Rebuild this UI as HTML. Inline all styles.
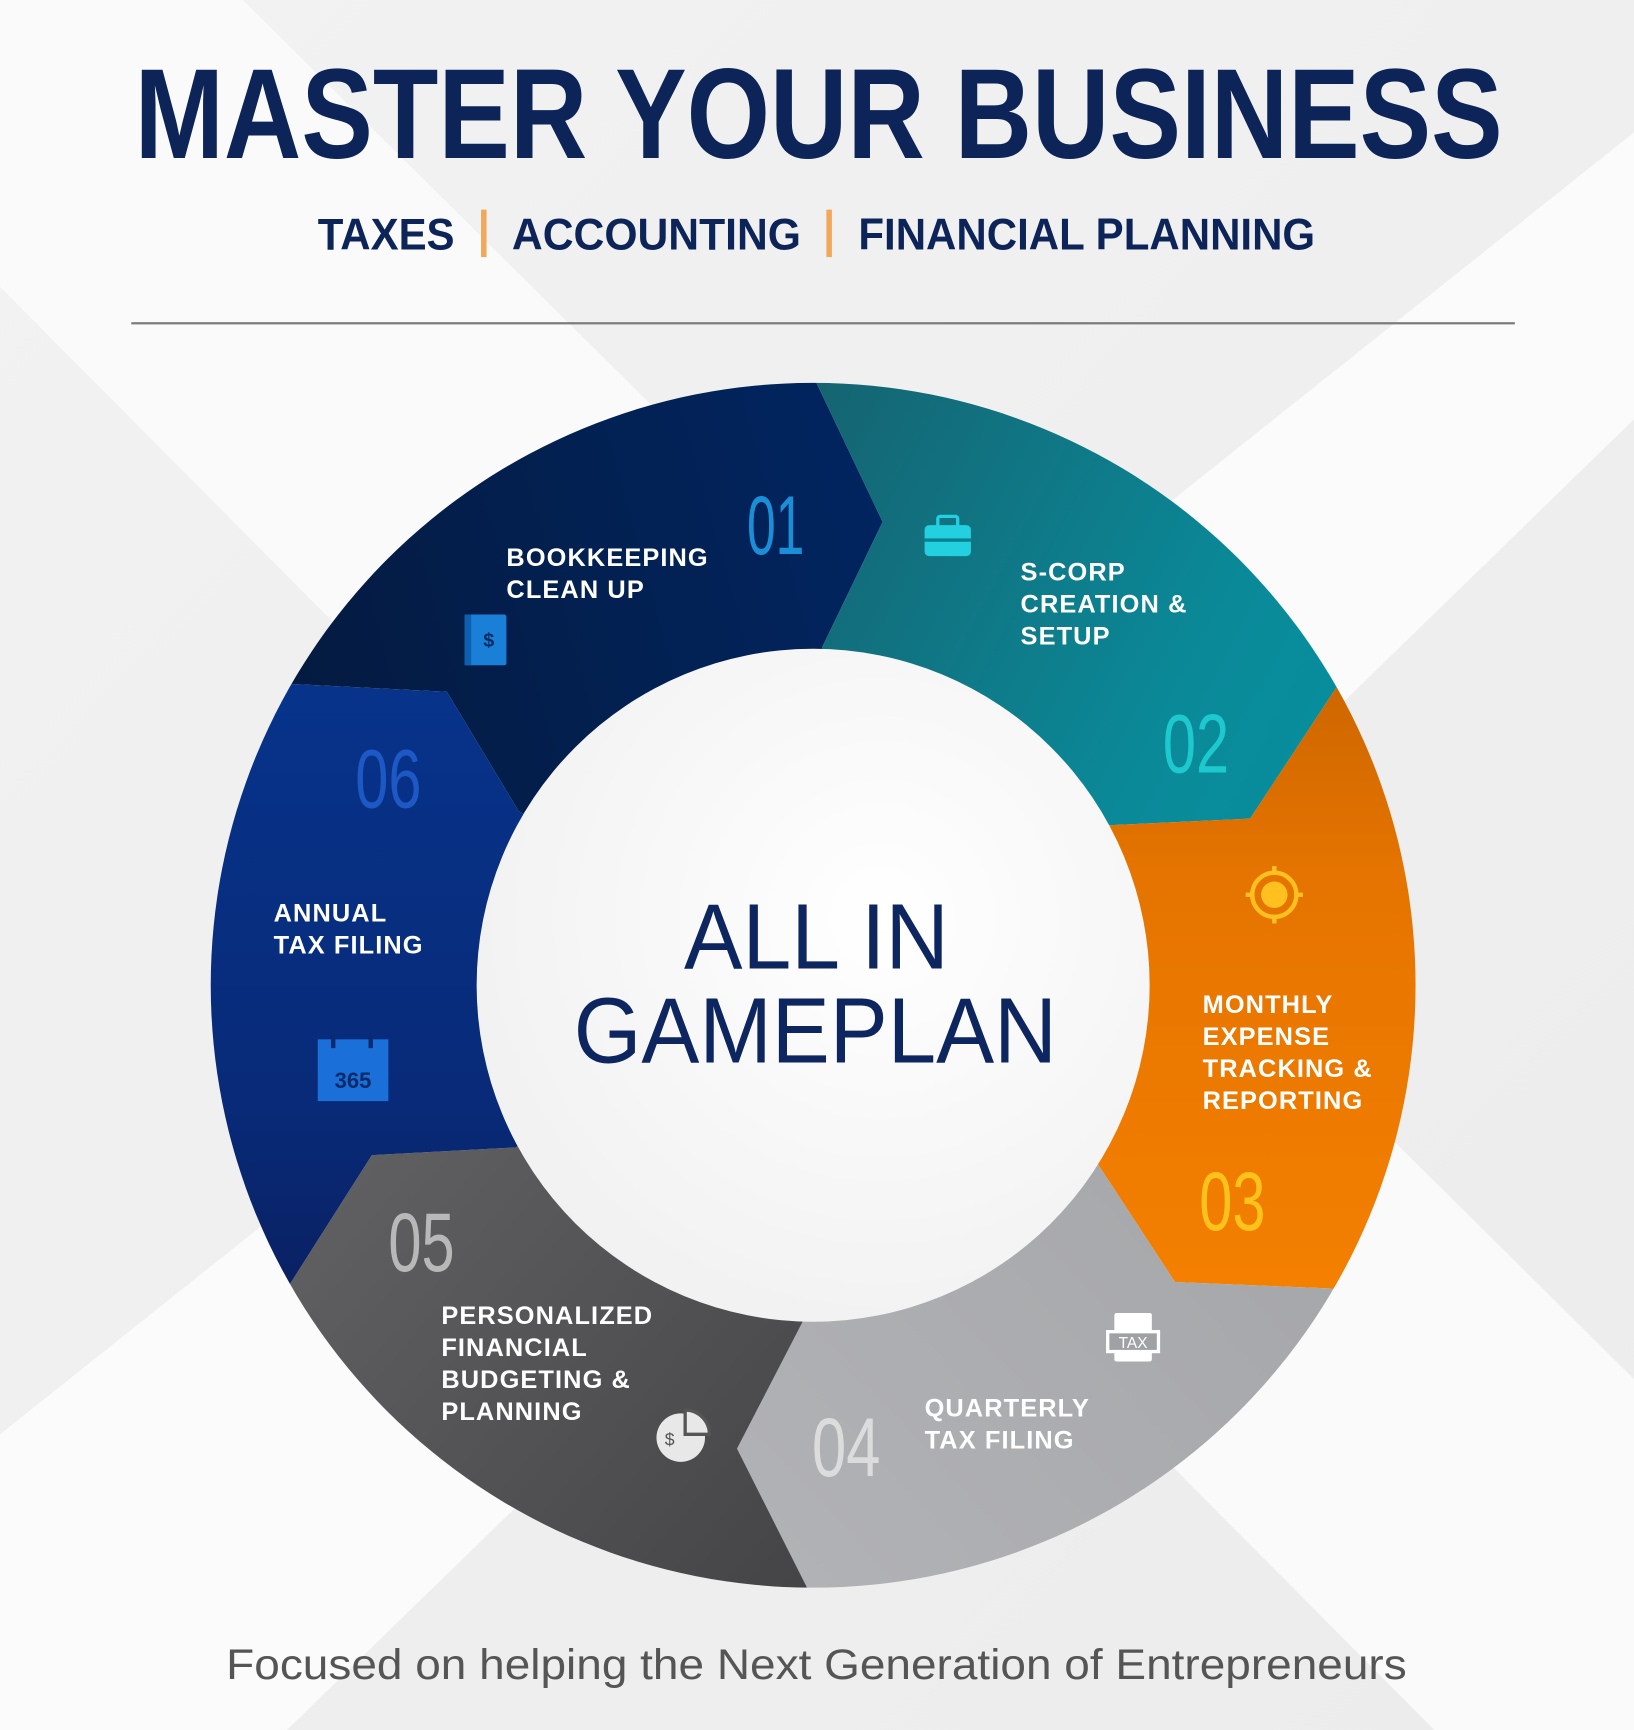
<!DOCTYPE html>
<html><head><meta charset="utf-8"><style>
html,body{margin:0;padding:0;background:#f3f3f3;width:1634px;height:1730px;overflow:hidden}
svg{display:block;vertical-align:top}
</style></head><body>
<svg width="1634" height="1730" viewBox="0 0 1481 1568" xmlns="http://www.w3.org/2000/svg" font-family="Liberation Sans, sans-serif">
<defs>
<linearGradient id="bg" x1="0" y1="0" x2="1" y2="1"><stop offset="0" stop-color="#f2f2f2"/><stop offset="1" stop-color="#ececec"/></linearGradient>
<linearGradient id="g1" x1="0" y1="0.3" x2="1" y2="0"><stop offset="0" stop-color="#06152e"/><stop offset="1" stop-color="#00286a"/></linearGradient>
<linearGradient id="g2" x1="0" y1="0" x2="1" y2="0.6"><stop offset="0" stop-color="#1c4d5a"/><stop offset="0.6" stop-color="#0a8a99"/><stop offset="1" stop-color="#0296a8"/></linearGradient>
<linearGradient id="g3" x1="0" y1="0" x2="0" y2="1"><stop offset="0" stop-color="#a85000"/><stop offset="0.4" stop-color="#e57400"/><stop offset="1" stop-color="#ff8800"/></linearGradient>
<linearGradient id="g4" x1="1" y1="0" x2="0" y2="1"><stop offset="0" stop-color="#9c9da0"/><stop offset="1" stop-color="#b9babd"/></linearGradient>
<linearGradient id="g5" x1="0" y1="0" x2="1" y2="1"><stop offset="0" stop-color="#78787b"/><stop offset="1" stop-color="#333335"/></linearGradient>
<linearGradient id="g6" x1="0" y1="0" x2="0" y2="1"><stop offset="0" stop-color="#063a98"/><stop offset="0.6" stop-color="#082a78"/><stop offset="1" stop-color="#0e1240"/></linearGradient>
<radialGradient id="gi" cx="0.6" cy="0.4" r="0.7"><stop offset="0" stop-color="#ffffff"/><stop offset="1" stop-color="#f0f0f0"/></radialGradient>
<clipPath id="ring"><circle cx="737" cy="893" r="546"/></clipPath>
</defs>
<rect width="1481" height="1568" fill="url(#bg)"/>
<polygon points="0,0 220,0 1481,1250 1481,1568 1300,1568 0,260" fill="#fafafa"/>
<polygon points="1481,120 1481,380 260,1568 0,1568 0,1300" fill="#fbfbfb"/>

<text x="742" y="143" text-anchor="middle" font-size="116" font-weight="bold" fill="#0c2458" textLength="1240" lengthAdjust="spacingAndGlyphs">MASTER YOUR BUSINESS</text>
<g font-size="40" font-weight="bold" fill="#0c2458">
<text x="288" y="226" textLength="124" lengthAdjust="spacingAndGlyphs">TAXES</text>
<text x="464" y="226" textLength="262" lengthAdjust="spacingAndGlyphs">ACCOUNTING</text>
<text x="778" y="226" textLength="414" lengthAdjust="spacingAndGlyphs">FINANCIAL PLANNING</text>
</g>
<rect x="436" y="190" width="5" height="43" fill="#f0a85a"/>
<rect x="749" y="190" width="5" height="43" fill="#f0a85a"/>
<rect x="119" y="292" width="1254" height="2" fill="#7a7a7a"/>

<g clip-path="url(#ring)">
<polygon points="737,893 470,735 405,627 265,620 -207,347 743,-199 740,347 800,473 745,587" fill="url(#g1)"/>
<polygon points="737,893 745,587 800,473 740,347 743,-199 1687,351 1212,622 1133,742 1005,748" fill="url(#g2)"/>
<polygon points="737,893 1005,748 1133,742 1212,622 1687,351 1683,1443 1210,1168 1065,1162 995,1055" fill="url(#g3)"/>
<polygon points="737,893 995,1055 1065,1162 1210,1168 1683,1443 727,1987 732,1440 668,1313 728,1197" fill="url(#g4)"/>
<polygon points="737,893 728,1197 668,1313 732,1440 727,1987 -213,1437 262,1165 337,1047 467,1040" fill="url(#g5)"/>
<polygon points="737,893 467,1040 337,1047 262,1165 -213,1437 -207,347 265,620 405,627 470,735" fill="url(#g6)"/>
</g>
<circle cx="737" cy="893" r="305" fill="url(#gi)"/>
<g fill="#0d2660" font-size="84" text-anchor="middle">
<text x="740" y="878" textLength="240" lengthAdjust="spacingAndGlyphs">ALL IN</text>
<text x="739" y="963" textLength="438" lengthAdjust="spacingAndGlyphs">GAMEPLAN</text>
</g>

<g font-size="76" font-family="Liberation Sans Narrow, Liberation Sans, sans-serif">
<text x="677" y="502" fill="#1a8fd8" textLength="52" lengthAdjust="spacingAndGlyphs">01</text>
<text x="1054" y="700" fill="#1ec8cf" textLength="60" lengthAdjust="spacingAndGlyphs">02</text>
<text x="1087" y="1115" fill="#ffc21a" textLength="60" lengthAdjust="spacingAndGlyphs">03</text>
<text x="736" y="1338" fill="#dcdcdc" textLength="62" lengthAdjust="spacingAndGlyphs">04</text>
<text x="352" y="1152" fill="#b8b8b8" textLength="60" lengthAdjust="spacingAndGlyphs">05</text>
<text x="322" y="732" fill="#1d58c4" textLength="60" lengthAdjust="spacingAndGlyphs">06</text>
</g>

<g fill="#ffffff" font-size="23" font-weight="bold" letter-spacing="1">
<text x="459" y="513">BOOKKEEPING</text><text x="459" y="542">CLEAN UP</text>
<text x="925" y="526">S-CORP</text><text x="925" y="555">CREATION &amp;</text><text x="925" y="584">SETUP</text>
<text x="1090" y="918">MONTHLY</text><text x="1090" y="947">EXPENSE</text><text x="1090" y="976">TRACKING &amp;</text><text x="1090" y="1005">REPORTING</text>
<text x="838" y="1284">QUARTERLY</text><text x="838" y="1313">TAX FILING</text>
<text x="400" y="1200">PERSONALIZED</text><text x="400" y="1229">FINANCIAL</text><text x="400" y="1258">BUDGETING &amp;</text><text x="400" y="1287">PLANNING</text>
<text x="248" y="835">ANNUAL</text><text x="248" y="864">TAX FILING</text>
</g>

<g fill="#22d0e0"><rect x="838" y="476" width="42" height="28" rx="4"/><rect x="850" y="468" width="18" height="10" rx="2" fill="none" stroke="#22d0e0" stroke-width="3"/></g>
<rect x="838" y="488" width="42" height="3" fill="#0a7f90"/>
<g><rect x="421" y="557" width="38" height="46" rx="2" fill="#1a7fd6"/><rect x="421" y="557" width="6" height="46" fill="#0e5fb0"/><text x="443" y="586" font-size="18" font-weight="bold" fill="#062a66" text-anchor="middle">$</text></g>
<g stroke="#ffc020" stroke-width="4" fill="none"><circle cx="1155" cy="811" r="20"/></g><circle cx="1155" cy="811" r="12" fill="#ffc020"/>
<g stroke="#ffc020" stroke-width="4"><line x1="1155" y1="785" x2="1155" y2="793"/><line x1="1155" y1="829" x2="1155" y2="837"/><line x1="1129" y1="811" x2="1137" y2="811"/><line x1="1173" y1="811" x2="1181" y2="811"/></g>
<g><rect x="1010" y="1190" width="34" height="44" rx="2" fill="#ffffff"/><rect x="1004" y="1207" width="46" height="18" fill="#a0a1a4" stroke="#fff" stroke-width="3"/><text x="1027" y="1222" font-size="14" fill="#fff" text-anchor="middle">TAX</text></g>
<g><circle cx="617" cy="1303" r="22" fill="#e8e8e8"/><path d="M621,1278 A22,22 0 0 1 643,1300 L621,1300 Z" fill="#e8e8e8" stroke="#555" stroke-width="3"/><text x="607" y="1310" font-size="16" fill="#555" text-anchor="middle">$</text></g>
<g><rect x="288" y="942" width="64" height="56" fill="#1a6fd8"/><rect x="300" y="938" width="4" height="12" fill="#0d2a70"/><rect x="334" y="938" width="4" height="12" fill="#0d2a70"/><text x="320" y="986" font-size="20" font-weight="bold" fill="#0b2a6a" text-anchor="middle">365</text></g>

<text x="740" y="1522" text-anchor="middle" font-size="39" fill="#555555" textLength="1070" lengthAdjust="spacingAndGlyphs">Focused on helping the Next Generation of Entrepreneurs</text>
</svg>
</body></html>
